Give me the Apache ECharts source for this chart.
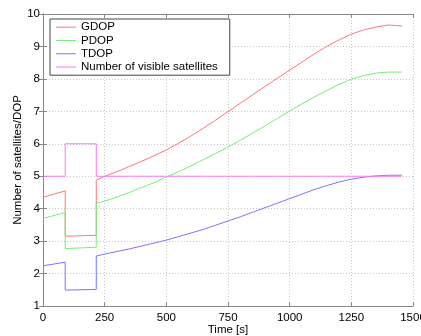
<!DOCTYPE html>
<html>
<head>
<meta charset="utf-8">
<script src="https://cdn.jsdelivr.net/npm/echarts@6/dist/echarts.min.js"></script>
<style>html,body{margin:0;padding:0;background:#fff;}#c{width:421px;height:336px;}</style>
</head>
<body>
<div id="c"></div>
<script>
const times = [0, 90, 90, 216, 216, 250, 300, 350, 400, 450, 500, 550, 600, 650, 700, 750, 800, 850, 900, 950, 1000, 1050, 1100, 1150, 1200, 1250, 1300, 1350, 1400, 1455];
const gdop = [4.35, 4.55, 3.15, 3.18, 4.88, 5.00, 5.14, 5.30, 5.46, 5.63, 5.81, 6.02, 6.24, 6.48, 6.73, 6.99, 7.25, 7.51, 7.77, 8.02, 8.27, 8.52, 8.77, 9.00, 9.20, 9.38, 9.51, 9.60, 9.66, 9.63];
const pdop = [3.70, 3.88, 2.77, 2.81, 4.17, 4.23, 4.36, 4.50, 4.65, 4.80, 4.97, 5.14, 5.32, 5.51, 5.70, 5.90, 6.11, 6.33, 6.55, 6.78, 7.01, 7.23, 7.44, 7.64, 7.83, 7.99, 8.10, 8.18, 8.21, 8.21];
const tdop = [2.24, 2.35, 1.49, 1.51, 2.54, 2.60, 2.68, 2.76, 2.85, 2.94, 3.03, 3.14, 3.25, 3.36, 3.49, 3.62, 3.75, 3.89, 4.03, 4.17, 4.31, 4.45, 4.59, 4.71, 4.82, 4.91, 4.97, 5.01, 5.03, 5.03];
const satellites = [5, 5, 6, 6, 5, 5, 5, 5, 5, 5, 5, 5, 5, 5, 5, 5, 5, 5, 5, 5, 5, 5, 5, 5, 5, 5, 5, 5, 5, 5];
const seriesNames = ['GDOP', 'PDOP', 'TDOP', 'Number of visible satellites'];

const colors = ['#ff7777', '#77ee77', '#7777ff', '#ff77ff'];
const font = 'Liberation Sans, Arial, Helvetica, sans-serif';
const pair = arr => times.map((t, i) => [t, arr[i]]);
const axisGray = '#888888';

const chart = echarts.init(document.getElementById('c'), null, {renderer: 'canvas'});
chart.setOption({
  animation: false,
  backgroundColor: '#ffffff',
  textStyle: {fontFamily: font},
  grid: {left: 43, right: 8, top: 14, bottom: 30, containLabel: false, outerBoundsMode: 'none'},
  legend: {
    orient: 'vertical', left: 50, top: 19,
    data: seriesNames.map(n => ({name: n, icon: 'rect'})),
    itemWidth: 20, itemHeight: 1, itemGap: 0,
    padding: [1.5, 12, 1.5, 6],
    backgroundColor: '#ffffff', borderColor: '#444444', borderWidth: 1,
    textStyle: {fontFamily: font, fontSize: 11.5, color: '#000', lineHeight: 13.3}
  },
  xAxis: [{
    type: 'value', min: 0, max: 1500, interval: 250,
    name: 'Time [s]', nameLocation: 'middle', nameGap: 18, nameMoveOverlap: false,
    nameTextStyle: {fontFamily: font, fontSize: 11.5, color: '#000'},
    axisLine: {show: true, lineStyle: {color: axisGray}},
    axisTick: {show: true, inside: true, length: 4, lineStyle: {color: axisGray}},
    axisLabel: {fontFamily: font, fontSize: 11.5, color: '#000', margin: 6,
      formatter: v => String(v)},
    splitLine: {show: true, lineStyle: {color: '#c8c8c8', type: [1, 2]}}
  }, {
    type: 'value', min: 0, max: 1500, interval: 250, position: 'top',
    axisLine: {show: true, lineStyle: {color: axisGray}},
    axisTick: {show: true, inside: true, length: 4, lineStyle: {color: axisGray}},
    axisLabel: {show: false}, splitLine: {show: false}
  }],
  yAxis: [{
    type: 'value', min: 1, max: 10, interval: 1,
    name: 'Number of satellites/DOP', nameLocation: 'middle', nameGap: 19, nameMoveOverlap: false,
    nameTextStyle: {fontFamily: font, fontSize: 11.5, color: '#000'},
    axisLine: {show: true, lineStyle: {color: axisGray}},
    axisTick: {show: true, inside: true, length: 4, lineStyle: {color: axisGray}},
    axisLabel: {fontFamily: font, fontSize: 11.5, color: '#000', margin: 3},
    splitLine: {show: true, lineStyle: {color: '#c8c8c8', type: [1, 2]}}
  }, {
    type: 'value', min: 1, max: 10, interval: 1, position: 'right',
    axisLine: {show: true, lineStyle: {color: axisGray}},
    axisTick: {show: true, inside: true, length: 4, lineStyle: {color: axisGray}},
    axisLabel: {show: false}, splitLine: {show: false}
  }],
  series: [gdop, pdop, tdop, satellites].map((arr, i) => ({
    name: seriesNames[i], type: 'line', data: pair(arr),
    symbol: 'none', showSymbol: false, smooth: false,
    lineStyle: {color: colors[i], width: 1}, itemStyle: {color: colors[i]},
    z: 2 + i
  }))
});
</script>
</body>
</html>
